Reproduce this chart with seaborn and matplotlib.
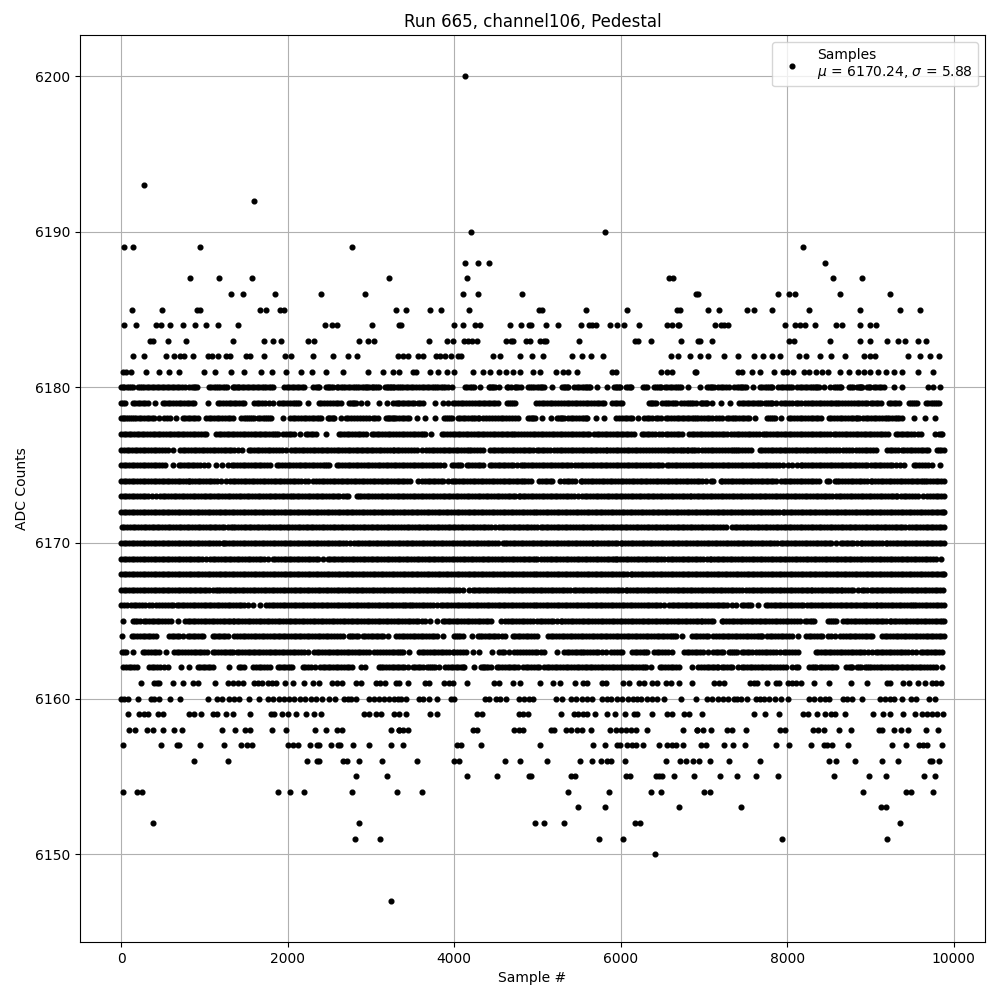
import numpy as np
import pandas as pd
import matplotlib
matplotlib.use("Agg")
import matplotlib.pyplot as plt
import seaborn as sns

# Sample numbers, one list per ADC level
s6200 = [4132]
s6193 = [273]
s6192 = [1600]
s6190 = [4196, 5812]
s6189 = [32, 140, 944, 2768, 8192]
s6188 = [4124, 4280, 4412, 8456]
s6187 = [824, 1172, 1568, 3212, 4148, 6584, 6632, 8552, 8900]
s6186 = [1316, 1460, 1844, 2396, 2924, 4100, 4280, 4808, 6908, 6932, 7892, 8024, 8096, 8636, 9236]
s6185 = [128, 488, 908, 948, 1664, 1736, 1904, 1960, 3296, 3416, 3704, 3836, 4172, 5024, 5060, 5588, 6080, 6680, 6712,
         7052, 7184, 7520, 7604, 7820, 8264, 8876, 9356, 9596]
s6184 = [32, 176, 416, 476, 584, 740, 884, 1016, 1160, 1400, 2444, 2528, 2588, 3008, 3336, 3360, 3992, 4100, 4244, 4304,
         4664, 4796, 4900, 4924, 5108, 5252, 5528, 5624, 5660, 5700, 5876, 5960, 6044, 6224, 6560, 6620, 6692, 6700,
         7136, 7208, 7244, 7292, 7976, 8096, 8156, 8216, 8336, 8588, 8660, 8876, 8996, 9068]
s6183 = [344, 380, 560, 784, 1340, 1712, 1820, 1916, 2240, 2312, 2852, 2960, 3032, 3692, 3908, 3980, 4112, 4160, 4208,
         4268, 4616, 4676, 4700, 4856, 4904, 5036, 5084, 5108, 5504, 6176, 6212, 6368, 6728, 6932, 6956, 7100, 8024,
         8084, 8516, 8876, 8996, 9200, 9332, 9416, 9572, 9668]
s6182 = [140, 272, 536, 632, 704, 752, 860, 1040, 1088, 1160, 1256, 1304, 1496, 1544, 1712, 1964, 2036, 2300, 2540, 2720,
         2828, 3320, 3380, 3440, 3560, 3620, 3776, 3824, 3884, 3956, 4040, 4076, 4460, 4544, 4784, 4928, 5072, 5420,
         5540, 5648, 5792, 6608, 6692, 6836, 6956, 7052, 7244, 7412, 7604, 7712, 7820, 7916, 8144, 8228, 8396, 8528,
         8696, 8924, 8996, 9056, 9452, 9596, 9716, 9824]
s6181 = [20, 60, 116, 296, 452, 572, 692, 992, 1124, 1316, 1472, 1676, 1808, 1976, 2156, 2288, 2456, 2660, 2960, 3140,
         3260, 3340, 3500, 3540, 3704, 3800, 3908, 3992, 4220, 4340, 4424, 4532, 4616, 4700, 4784, 4940, 5036, 5228,
         5312, 5372, 5480, 5900, 5948, 6488, 6560, 6620, 6896, 6908, 7412, 7460, 7580, 7676, 7844, 7952, 8000, 8072,
         8204, 8264, 8348, 8420, 8492, 8636, 8744, 8852, 8924, 8988, 9088, 9188, 9284, 9380, 9564, 9752]
s6180 = [0, 40, 90, 140, 200, 250, 310, 372, 400, 460, 520, 580, 640, 700, 772, 820, 870, 908, 1052, 1110, 1160, 1220,
         1268, 1340, 1380, 1420, 1480, 1540, 1600, 1660, 1720, 1770, 1820, 1960, 2020, 2080, 2140, 2200, 2300, 2340,
         2380, 2460, 2500, 2540, 2588, 2640, 2692, 2720, 2780, 2830, 2890, 2940, 2952, 3010, 3050, 3092, 3172, 3210,
         3244, 3280, 3340, 3360, 3420, 3480, 3540, 3580, 3640, 3700, 3760, 3810, 3870, 3920, 3968, 4128, 4185, 4240,
         4304, 4412, 4450, 4484, 4532, 4628, 4676, 4724, 4760, 4796, 4880, 4930, 4990, 5040, 5084, 5180, 5300, 5335,
         5372, 5444, 5500, 5560, 5600, 5636, 5720, 5840, 5924, 5960, 5996, 6068, 6128, 6272, 6320, 6404, 6450, 6488,
         6536, 6590, 6650, 6700, 6728, 6812, 6948, 7040, 7080, 7120, 7172, 7230, 7300, 7360, 7420, 7460, 7500, 7588,
         7676, 7730, 7780, 7820, 7892, 7950, 8010, 8060, 8120, 8180, 8240, 8300, 8340, 8380, 8444, 8516, 8564, 8610,
         8648, 8744, 8792, 8840, 8870, 8900, 8960, 8988, 9040, 9100, 9160, 9284, 9380, 9692, 9752, 9836,
         20, 65, 115, 225, 280, 340, 430, 490, 550, 610, 670, 735, 845, 890, 1080, 1135, 1190, 1245, 1360, 1400, 1450,
         1510, 1570, 1630, 1690, 1745, 1795, 1990, 2050, 2110, 2170, 2360, 2480, 2520, 2610, 2665, 2750, 2805, 2860,
         2915, 2980, 3030, 3070, 3190, 3225, 3260, 3310, 3390, 3450, 3510, 3610, 3670, 3730, 3785, 3840, 3895, 4155,
         4210, 4430, 4465, 4650, 4740, 4905, 4960, 5015, 5060, 5315, 5355, 5470, 5530, 5580, 5620, 5940, 5980, 6090,
         6110, 6295, 6425, 6470, 6560, 6620, 6675, 7060, 7100, 7200, 7265, 7390, 7440, 7480, 7700, 7755, 7800, 7920,
         7980, 8035, 8150, 8210, 8270, 8320, 8360, 8585, 8630, 8765, 8855, 8885, 8975, 9070, 9130]
s6179 = [0, 52, 140, 200, 260, 320, 412, 500, 560, 620, 690, 750, 820, 880, 1040, 1160, 1220, 1290, 1350, 1420, 1480,
         1600, 1660, 1730, 1820, 1900, 1960, 2030, 2090, 2132, 2240, 2372, 2440, 2510, 2580, 2640, 2740, 2780, 2820,
         2880, 2952, 3092, 3188, 3260, 3300, 3340, 3400, 3460, 3520, 3560, 3628, 3764, 3860, 3920, 3980, 4050, 4110,
         4180, 4248, 4280, 4340, 4400, 4460, 4520, 4628, 4680, 4724, 4988, 5050, 5110, 5180, 5250, 5320, 5380, 5420,
         5480, 5550, 5610, 5680, 5740, 5800, 5900, 5960, 6020, 6340, 6380, 6420, 6500, 6560, 6610, 6660, 6728, 6790,
         6840, 6900, 6960, 7000, 7040, 7100, 7208, 7316, 7420, 7480, 7540, 7600, 7640, 7680, 7732, 7780, 7820, 7860,
         7920, 7990, 8052, 8100, 8160, 8212, 8280, 8340, 8380, 8440, 8510, 8570, 8620, 8660, 8730, 8800, 8832, 8900,
         8960, 9000, 9060, 9120, 9220, 9280, 9340, 9460, 9510, 9560, 9668, 9720, 9770, 9820,
         25, 170, 230, 290, 530, 590, 655, 720, 785, 850, 1190, 1255, 1320, 1385, 1450, 1630, 1695, 1775, 1930, 1995,
         2060, 2110, 2405, 2475, 2545, 2610, 2760, 2800, 3320, 3370, 3430, 3490, 3595, 4015, 4080, 4145, 4215, 4310,
         4370, 4430, 4490, 4655, 4700, 5020, 5080, 5145, 5215, 5285, 5350, 5450, 5515, 5580, 5645, 5710, 5770, 5930,
         5990, 6360, 6400, 6530, 6585, 6635, 6760, 6815, 6870, 6980, 7020, 7450, 7510, 7570, 7660, 7755, 7800, 7955,
         8020, 8130, 8245, 8310, 8410, 8475, 8540, 8600, 8695, 8765, 8865, 8930, 9030, 9090, 9250, 9310, 9485, 9535,
         9695, 9745, 9795]
s6178 = [0, 40, 80, 130, 180, 212, 270, 340, 400, 452, 520, 588, 660, 740, 800, 860, 920, 1020, 1080, 1150, 1210, 1280,
         1340, 1440, 1500, 1550, 1600, 1640, 1700, 1750, 1800, 1940, 2028, 2090, 2160, 2220, 2290, 2350, 2400, 2480,
         2520, 2560, 2640, 2700, 2760, 2830, 2900, 2980, 3020, 3080, 3180, 3220, 3260, 3300, 3340, 3400, 3460, 3548,
         3644, 3764, 3880, 3930, 3970, 4040, 4100, 4170, 4230, 4280, 4300, 4380, 4420, 4490, 4560, 4620, 4690, 4760,
         4880, 4930, 4972, 5060, 5168, 5240, 5280, 5320, 5372, 5430, 5500, 5560, 5600, 5708, 5804, 5940, 6010, 6080,
         6140, 6212, 6280, 6340, 6420, 6480, 6540, 6600, 6670, 6730, 6800, 6820, 6880, 6932, 6960, 7030, 7100, 7180,
         7220, 7280, 7330, 7380, 7420, 7480, 7540, 7616, 7760, 7810, 7852, 7920, 8020, 8080, 8150, 8210, 8280, 8340,
         8400, 8500, 8560, 8630, 8690, 8760, 8820, 8860, 8908, 8970, 9040, 9100, 9170, 9220, 9260, 9320, 9372, 9520,
         9656, 9776,
         20, 60, 105, 155, 240, 305, 370, 550, 770, 830, 890, 1050, 1115, 1180, 1245, 1310, 1470, 1525, 1575, 1670, 1725,
         1775, 2060, 2125, 2190, 2255, 2320, 2375, 2500, 2540, 2730, 2795, 2865, 2940, 3050, 3200, 3240, 3280, 3370,
         3430, 3905, 3950, 4070, 4135, 4200, 4255, 4340, 4455, 4525, 4590, 4655, 4725, 4905, 4950, 5260, 5300, 5400,
         5465, 5530, 5580, 5975, 6045, 6110, 6310, 6380, 6450, 6570, 6635, 6700, 6765, 6850, 6905, 6995, 7065, 7140,
         7305, 7355, 7450, 7510, 7785, 7830, 8050, 8115, 8180, 8245, 8310, 8370, 8530, 8595, 8660, 8725, 8790, 8840,
         8940, 9005, 9070, 9135, 9195, 9290, 9345]
s6177 = [0, 60, 120, 190, 250, 310, 380, 440, 500, 570, 630, 700, 760, 830, 890, 960, 1020, 1140, 1200, 1270, 1330, 1390,
         1428, 1460, 1520, 1590, 1650, 1710, 1780, 1840, 1880, 1940, 2010, 2080, 2144, 2220, 2280, 2340, 2456, 2612,
         2680, 2740, 2810, 2870, 2940, 3008, 3070, 3130, 3200, 3260, 3340, 3400, 3470, 3530, 3600, 3650, 3716, 3852,
         3910, 3980, 4040, 4110, 4170, 4240, 4300, 4360, 4430, 4490, 4560, 4620, 4680, 4700, 4770, 4840, 4910, 4940,
         5010, 5070, 5140, 5200, 5270, 5330, 5400, 5460, 5530, 5590, 5620, 5680, 5740, 5810, 5870, 5940, 6000, 6028,
         6090, 6160, 6250, 6280, 6340, 6410, 6500, 6540, 6600, 6670, 6730, 6820, 6880, 6950, 7010, 7080, 7140, 7210,
         7280, 7328, 7390, 7460, 7530, 7548, 7620, 7710, 7732, 7790, 7860, 7920, 7990, 8050, 8120, 8180, 8250, 8310,
         8380, 8440, 8510, 8560, 8620, 8690, 8750, 8820, 8880, 8950, 9010, 9080, 9140, 9210, 9300, 9328, 9390, 9450,
         9520, 9610, 9772, 9820, 9860,
         30, 90, 155, 220, 280, 345, 410, 470, 535, 600, 665, 730, 795, 860, 925, 990, 1170, 1235, 1300, 1360, 1490, 1555,
         1620, 1680, 1745, 1810, 1860, 1975, 2045, 2250, 2310, 2645, 2710, 2775, 2840, 2905, 3040, 3100, 3165, 3230,
         3300, 3370, 3435, 3500, 3565, 3625, 3880, 3945, 4010, 4075, 4140, 4205, 4270, 4330, 4395, 4460, 4525, 4590,
         4650, 4735, 4805, 4875, 4975, 5040, 5105, 5170, 5235, 5300, 5365, 5430, 5495, 5560, 5710, 5775, 5840, 5905,
         5970, 6060, 6125, 6310, 6375, 6455, 6570, 6635, 6700, 6850, 6915, 6980, 7045, 7110, 7175, 7245, 7360, 7425,
         7495, 7585, 7665, 7760, 7825, 7890, 7955, 8020, 8085, 8150, 8215, 8280, 8345, 8410, 8475, 8590, 8655, 8720,
         8785, 8850, 8915, 8980, 9045, 9110, 9175, 9360, 9420, 9485, 9565, 9840]
s6176 = [0, 70, 132, 164, 230, 290, 360, 420, 490, 560, 628, 712, 772, 840, 900, 970, 1030, 1100, 1160, 1230, 1290, 1360,
         1452, 1532, 1600, 1660, 1692, 1760, 1820, 1890, 1980, 2040, 2100, 2170, 2230, 2300, 2360, 2430, 2490, 2560,
         2620, 2690, 2750, 2820, 2880, 2940, 2960, 3030, 3092, 3120, 3190, 3260, 3280, 3340, 3410, 3480, 3548, 3612,
         3660, 3730, 3790, 3860, 3920, 3990, 4050, 4120, 4180, 4200, 4270, 4340, 4428, 4490, 4560, 4620, 4690, 4750,
         4820, 4880, 4940, 5000, 5020, 5080, 5148, 5200, 5270, 5330, 5400, 5460, 5530, 5590, 5660, 5720, 5790, 5820,
         5840, 5910, 5970, 6040, 6100, 6170, 6230, 6300, 6340, 6380, 6452, 6480, 6550, 6610, 6680, 6740, 6790, 6812,
         6870, 6924, 6980, 7050, 7110, 7180, 7252, 7292, 7350, 7400, 7420, 7490, 7560, 7672, 7730, 7800, 7860, 7930,
         7990, 8060, 8120, 8190, 8250, 8320, 8380, 8450, 8510, 8580, 8620, 8672, 8740, 8820, 8860, 8930, 8990, 9060,
         9200, 9260, 9330, 9380, 9400, 9470, 9530, 9600, 9660, 9692, 9792, 9850, 9880,
         35, 100, 195, 260, 325, 390, 455, 525, 740, 805, 870, 935, 1000, 1065, 1130, 1195, 1260, 1325, 1400, 1565, 1630,
         1725, 1790, 1855, 1935, 2070, 2135, 2200, 2265, 2330, 2395, 2460, 2525, 2590, 2655, 2720, 2785, 2850, 2910,
         2995, 3060, 3155, 3225, 3310, 3375, 3445, 3515, 3695, 3760, 3825, 3890, 3955, 4020, 4085, 4150, 4235, 4305,
         4460, 4525, 4590, 4655, 4720, 4785, 4850, 4910, 5050, 5115, 5235, 5300, 5365, 5430, 5495, 5560, 5625, 5690,
         5755, 5875, 5940, 6005, 6070, 6135, 6200, 6265, 6415, 6515, 6580, 6645, 6710, 6765, 6840, 6895, 7015, 7080,
         7145, 7215, 7320, 7375, 7455, 7525, 7700, 7765, 7830, 7895, 7960, 8025, 8090, 8155, 8220, 8285, 8350, 8415,
         8480, 8545, 8705, 8780, 8895, 8960, 9025, 9230, 9295, 9435, 9500, 9565, 9630, 9820]
s6175 = [0, 60, 130, 190, 260, 320, 390, 450, 532, 628, 690, 750, 820, 880, 950, 1048, 1136, 1212, 1280, 1328, 1390,
         1460, 1520, 1590, 1650, 1720, 1792, 1868, 1930, 2000, 2060, 2130, 2190, 2260, 2320, 2390, 2450, 2500, 2588,
         2650, 2720, 2780, 2820, 2880, 2950, 3010, 3080, 3140, 3210, 3280, 3300, 3340, 3400, 3470, 3530, 3600, 3660,
         3730, 3790, 3880, 3972, 4030, 4080, 4152, 4210, 4280, 4340, 4428, 4452, 4520, 4580, 4650, 4710, 4800, 4820,
         4890, 4950, 5020, 5080, 5150, 5210, 5280, 5340, 5400, 5452, 5520, 5580, 5650, 5710, 5780, 5840, 5910, 5970,
         6040, 6100, 6170, 6230, 6300, 6340, 6360, 6430, 6500, 6552, 6620, 6680, 6750, 6820, 6880, 6950, 7010, 7080,
         7140, 7210, 7270, 7340, 7372, 7440, 7500, 7570, 7630, 7700, 7760, 7830, 7900, 7948, 8012, 8060, 8120, 8160,
         8180, 8250, 8310, 8380, 8440, 8510, 8570, 8640, 8700, 8770, 8830, 8900, 8960, 9040, 9068, 9130, 9200, 9260,
         9348, 9404, 9520, 9580, 9650, 9740, 9828,
         30, 95, 160, 225, 290, 355, 420, 490, 720, 785, 850, 915, 1000, 1360, 1425, 1490, 1555, 1620, 1685, 1755, 1900,
         1965, 2030, 2095, 2160, 2225, 2290, 2355, 2420, 2475, 2620, 2685, 2750, 2850, 2915, 2980, 3045, 3110, 3175,
         3245, 3370, 3435, 3500, 3565, 3630, 3695, 3760, 3835, 4000, 4055, 4180, 4245, 4310, 4485, 4550, 4615, 4680,
         4755, 4855, 4920, 4985, 5050, 5115, 5180, 5245, 5310, 5370, 5485, 5550, 5615, 5680, 5745, 5810, 5875, 5940,
         6005, 6070, 6135, 6200, 6265, 6395, 6465, 6585, 6650, 6715, 6785, 6850, 6915, 6980, 7045, 7110, 7175, 7240,
         7305, 7405, 7470, 7535, 7600, 7665, 7730, 7795, 7865, 8215, 8280, 8345, 8410, 8475, 8540, 8605, 8670, 8735,
         8800, 8865, 8930, 9000, 9100, 9165, 9230, 9300, 9550, 9615, 9695]
s6174 = [0, 60, 130, 190, 260, 320, 390, 450, 520, 580, 650, 710, 780, 812, 820, 890, 950, 1020, 1080, 1150, 1200, 1260,
         1308, 1370, 1440, 1500, 1570, 1630, 1700, 1760, 1830, 1890, 1960, 1992, 2060, 2120, 2212, 2240, 2308, 2340,
         2410, 2470, 2540, 2600, 2670, 2730, 2800, 2820, 2890, 2950, 3020, 3080, 3150, 3210, 3280, 3340, 3400, 3470,
         3564, 3612, 3680, 3740, 3810, 3870, 3972, 3992, 4060, 4120, 4190, 4250, 4320, 4380, 4450, 4510, 4580, 4640,
         4710, 4770, 4828, 4848, 4920, 5020, 5052, 5120, 5180, 5276, 5316, 5380, 5450, 5524, 5540, 5610, 5670, 5740,
         5800, 5870, 5930, 6000, 6060, 6130, 6190, 6260, 6320, 6390, 6450, 6520, 6580, 6650, 6710, 6780, 6840, 6910,
         6970, 7084, 7112, 7200, 7220, 7290, 7350, 7420, 7480, 7550, 7610, 7680, 7740, 7800, 7860, 7920, 7990, 8050,
         8120, 8180, 8250, 8310, 8380, 8480, 8500, 8570, 8620, 8660, 8730, 8790, 8860, 8920, 9000, 9020, 9090, 9150,
         9220, 9280, 9350, 9410, 9480, 9540, 9610, 9652, 9680, 9750, 9810, 9880,
         30, 95, 160, 225, 290, 355, 420, 485, 550, 615, 680, 745, 855, 920, 985, 1050, 1115, 1340, 1405, 1470, 1535, 1600,
         1665, 1730, 1795, 1860, 1925, 2025, 2090, 2165, 2375, 2440, 2505, 2570, 2635, 2700, 2765, 2855, 2920, 2985,
         3050, 3115, 3180, 3245, 3310, 3370, 3435, 3650, 3710, 3775, 3840, 3920, 4025, 4090, 4155, 4220, 4285, 4350,
         4415, 4480, 4545, 4610, 4675, 4740, 4800, 4885, 5085, 5150, 5350, 5415, 5575, 5640, 5705, 5770, 5835, 5900,
         5965, 6030, 6095, 6160, 6225, 6290, 6355, 6420, 6485, 6550, 6615, 6680, 6745, 6810, 6875, 6940, 7025, 7255,
         7320, 7385, 7450, 7515, 7580, 7645, 7710, 7770, 7830, 7955, 8020, 8085, 8150, 8215, 8280, 8345, 8600, 8695,
         8760, 8825, 8890, 8960, 9055, 9120, 9185, 9250, 9315, 9380, 9445, 9510, 9575, 9630, 9715, 9780, 9845]
s6173 = [0, 60, 130, 190, 260, 320, 420, 468, 530, 600, 660, 730, 790, 860, 920, 990, 1050, 1120, 1180, 1250, 1310, 1380,
         1440, 1510, 1570, 1640, 1700, 1770, 1830, 1900, 1960, 2030, 2080, 2108, 2170, 2240, 2300, 2370, 2430, 2500,
         2560, 2620, 2660, 2730, 2832, 2852, 2920, 2980, 3050, 3120, 3148, 3210, 3280, 3340, 3400, 3470, 3530, 3600,
         3660, 3730, 3790, 3860, 3920, 3990, 4050, 4120, 4180, 4250, 4310, 4380, 4440, 4510, 4570, 4640, 4700, 4772,
         4788, 4850, 4920, 4980, 5050, 5110, 5180, 5240, 5310, 5370, 5440, 5540, 5568, 5630, 5700, 5760, 5830, 5890,
         5960, 6020, 6090, 6150, 6220, 6240, 6310, 6370, 6440, 6500, 6570, 6630, 6700, 6760, 6828, 6844, 6910, 6970,
         7040, 7100, 7170, 7230, 7300, 7360, 7430, 7490, 7560, 7620, 7690, 7750, 7820, 7880, 7950, 8010, 8080, 8140,
         8210, 8270, 8340, 8400, 8470, 8540, 8588, 8650, 8720, 8780, 8850, 8910, 8980, 9040, 9110, 9170, 9240, 9300,
         9320, 9400, 9428, 9500, 9572, 9632, 9680, 9750, 9810, 9880,
         30, 95, 160, 225, 290, 370, 500, 565, 630, 695, 760, 825, 890, 955, 1020, 1085, 1150, 1215, 1280, 1345, 1410, 1475,
         1540, 1605, 1670, 1735, 1800, 1865, 1930, 1995, 2055, 2140, 2205, 2270, 2335, 2400, 2465, 2530, 2590, 2695,
         2880, 2950, 3015, 3085, 3180, 3245, 3310, 3370, 3435, 3500, 3565, 3630, 3695, 3760, 3825, 3890, 3955, 4020,
         4085, 4150, 4215, 4280, 4345, 4410, 4475, 4540, 4605, 4670, 4735, 4820, 4885, 4950, 5015, 5080, 5145, 5210,
         5275, 5340, 5405, 5490, 5600, 5665, 5730, 5795, 5860, 5925, 5990, 6055, 6120, 6185, 6275, 6340, 6405, 6470,
         6535, 6600, 6665, 6730, 6795, 6880, 6940, 7005, 7070, 7135, 7200, 7265, 7330, 7395, 7460, 7525, 7590, 7655,
         7720, 7785, 7850, 7915, 7980, 8045, 8110, 8175, 8240, 8305, 8370, 8435, 8505, 8620, 8685, 8750, 8815, 8880,
         8945, 9010, 9075, 9140, 9205, 9270, 9360, 9465, 9535, 9715, 9780, 9845]
s6172 = [0, 60, 130, 190, 260, 320, 390, 450, 520, 580, 650, 710, 780, 840, 910, 970, 1040, 1100, 1170, 1230, 1300, 1360,
         1430, 1490, 1560, 1620, 1690, 1750, 1820, 1880, 1950, 2010, 2080, 2140, 2210, 2270, 2340, 2400, 2470, 2530,
         2600, 2660, 2730, 2790, 2860, 2920, 2990, 3050, 3120, 3180, 3250, 3310, 3380, 3440, 3510, 3570, 3640, 3700,
         3770, 3830, 3900, 3960, 4030, 4090, 4160, 4220, 4290, 4350, 4420, 4480, 4550, 4610, 4680, 4740, 4810, 4870,
         4940, 5000, 5070, 5130, 5200, 5260, 5330, 5390, 5460, 5520, 5590, 5650, 5720, 5780, 5850, 5910, 5980, 6040,
         6110, 6170, 6240, 6300, 6370, 6430, 6500, 6560, 6630, 6690, 6760, 6820, 6890, 6950, 7020, 7080, 7150, 7210,
         7280, 7340, 7410, 7470, 7540, 7600, 7670, 7730, 7800, 7860, 7948, 7964, 8030, 8090, 8160, 8220, 8290, 8350,
         8420, 8480, 8550, 8610, 8680, 8740, 8810, 8870, 8940, 9000, 9070, 9130, 9200, 9260, 9330, 9390, 9460, 9520,
         9590, 9650, 9720, 9780, 9850, 9880,
         30, 95, 160, 225, 290, 355, 420, 485, 550, 615, 680, 745, 810, 875, 940, 1005, 1070, 1135, 1200, 1265, 1330, 1395,
         1460, 1525, 1590, 1655, 1720, 1785, 1850, 1915, 1980, 2045, 2110, 2175, 2240, 2305, 2370, 2435, 2500, 2565,
         2630, 2695, 2760, 2825, 2890, 2955, 3020, 3085, 3150, 3215, 3280, 3345, 3410, 3475, 3540, 3605, 3670, 3735,
         3800, 3865, 3930, 3995, 4060, 4125, 4190, 4255, 4320, 4385, 4450, 4515, 4580, 4645, 4710, 4775, 4840, 4905,
         4970, 5035, 5100, 5165, 5230, 5295, 5360, 5425, 5490, 5555, 5620, 5685, 5750, 5815, 5880, 5945, 6010, 6075,
         6140, 6205, 6270, 6335, 6400, 6465, 6530, 6595, 6660, 6725, 6790, 6855, 6920, 6985, 7050, 7115, 7180, 7245,
         7310, 7375, 7440, 7505, 7570, 7635, 7700, 7765, 7830, 7895, 7995, 8060, 8125, 8190, 8255, 8320, 8385, 8450,
         8515, 8580, 8645, 8710, 8775, 8840, 8905, 8970, 9035, 9100, 9165, 9230, 9295, 9360, 9425, 9490, 9555, 9620,
         9685, 9750, 9815, 9870]
s6171 = [12, 70, 140, 200, 270, 330, 400, 460, 530, 590, 660, 720, 790, 850, 920, 980, 1050, 1110, 1180, 1240, 1320,
         1340, 1400, 1470, 1530, 1600, 1660, 1730, 1790, 1860, 1920, 1990, 2050, 2120, 2180, 2250, 2310, 2380, 2440,
         2510, 2570, 2640, 2700, 2770, 2830, 2900, 2960, 3030, 3090, 3160, 3220, 3290, 3360, 3400, 3460, 3530, 3590,
         3660, 3720, 3790, 3850, 3920, 3980, 4050, 4110, 4180, 4240, 4310, 4370, 4440, 4540, 4568, 4630, 4700, 4760,
         4830, 4890, 4960, 5040, 5072, 5130, 5200, 5260, 5330, 5390, 5460, 5540, 5564, 5630, 5690, 5760, 5820, 5890,
         5950, 6020, 6080, 6150, 6210, 6280, 6340, 6410, 6470, 6540, 6600, 6670, 6730, 6800, 6860, 6930, 6990, 7060,
         7120, 7190, 7260, 7340, 7400, 7470, 7530, 7600, 7660, 7730, 7790, 7860, 7920, 7990, 8050, 8120, 8180, 8250,
         8310, 8380, 8440, 8510, 8570, 8640, 8700, 8770, 8830, 8900, 8960, 9030, 9090, 9160, 9220, 9290, 9350, 9412,
         9460, 9530, 9590, 9660, 9720, 9790, 9850, 9880,
         40, 105, 170, 235, 300, 365, 430, 495, 560, 625, 690, 755, 820, 885, 950, 1015, 1080, 1145, 1210, 1280, 1370,
         1435, 1500, 1565, 1630, 1695, 1760, 1825, 1890, 1955, 2020, 2085, 2150, 2215, 2280, 2345, 2410, 2475, 2540,
         2605, 2670, 2735, 2800, 2865, 2930, 2995, 3060, 3125, 3190, 3255, 3325, 3430, 3495, 3560, 3625, 3690, 3755,
         3820, 3885, 3950, 4015, 4080, 4145, 4210, 4275, 4340, 4405, 4490, 4600, 4665, 4730, 4795, 4860, 4925, 5000,
         5100, 5165, 5230, 5295, 5360, 5425, 5500, 5595, 5660, 5725, 5790, 5855, 5920, 5985, 6050, 6115, 6180, 6245,
         6310, 6375, 6440, 6505, 6570, 6635, 6700, 6765, 6830, 6895, 6960, 7025, 7090, 7155, 7225, 7370, 7435, 7500,
         7565, 7630, 7695, 7760, 7825, 7890, 7955, 8020, 8085, 8150, 8215, 8280, 8345, 8410, 8475, 8540, 8605, 8670,
         8735, 8800, 8865, 8930, 8995, 9060, 9125, 9190, 9255, 9320, 9380, 9495, 9560, 9625, 9690, 9755, 9820]
s6170 = [0, 60, 130, 190, 260, 320, 390, 450, 520, 580, 650, 710, 780, 840, 910, 970, 1040, 1100, 1170, 1220, 1232, 1300,
         1360, 1430, 1490, 1560, 1620, 1690, 1750, 1820, 1880, 1950, 2010, 2080, 2140, 2210, 2270, 2340, 2400, 2470,
         2530, 2600, 2660, 2748, 2800, 2860, 2930, 2990, 3060, 3120, 3190, 3250, 3320, 3380, 3450, 3510, 3580, 3640,
         3710, 3770, 3840, 3900, 3970, 4030, 4100, 4160, 4230, 4290, 4360, 4420, 4490, 4580, 4604, 4670, 4730, 4800,
         4860, 4930, 4990, 5060, 5120, 5190, 5250, 5320, 5380, 5450, 5510, 5580, 5652, 5668, 5730, 5800, 5860, 5930,
         6000, 6020, 6090, 6150, 6220, 6280, 6350, 6410, 6480, 6540, 6610, 6670, 6740, 6800, 6870, 6930, 7000, 7060,
         7130, 7190, 7260, 7320, 7390, 7450, 7520, 7580, 7650, 7710, 7780, 7840, 7920, 7948, 8010, 8080, 8140, 8210,
         8270, 8340, 8400, 8470, 8530, 8640, 8668, 8730, 8790, 8880, 8900, 8970, 9030, 9100, 9180, 9200, 9270, 9330,
         9400, 9460, 9530, 9590, 9660, 9720, 9790, 9850, 9880,
         30, 95, 160, 225, 290, 355, 420, 485, 550, 615, 680, 745, 810, 875, 940, 1005, 1070, 1135, 1265, 1330, 1395, 1460,
         1525, 1590, 1655, 1720, 1785, 1850, 1915, 1980, 2045, 2110, 2175, 2240, 2305, 2370, 2435, 2500, 2565, 2630,
         2700, 2830, 2895, 2960, 3025, 3090, 3155, 3220, 3285, 3350, 3415, 3480, 3545, 3610, 3675, 3740, 3805, 3870,
         3935, 4000, 4065, 4130, 4195, 4260, 4325, 4390, 4455, 4530, 4635, 4700, 4765, 4830, 4895, 4960, 5025, 5090,
         5155, 5220, 5285, 5350, 5415, 5480, 5545, 5615, 5700, 5765, 5830, 5895, 5960, 6055, 6120, 6185, 6250, 6315,
         6380, 6445, 6510, 6575, 6640, 6705, 6770, 6835, 6900, 6965, 7030, 7095, 7160, 7225, 7290, 7355, 7420, 7485,
         7550, 7615, 7680, 7745, 7810, 7875, 7980, 8045, 8110, 8175, 8240, 8305, 8370, 8435, 8500, 8580, 8700, 8760,
         8835, 8935, 9000, 9065, 9140, 9235, 9300, 9365, 9430, 9495, 9560, 9625, 9690, 9755, 9820]
s6169 = [0, 60, 130, 190, 260, 320, 390, 450, 520, 580, 650, 710, 780, 840, 910, 970, 1068, 1100, 1160, 1230, 1290, 1360,
         1420, 1490, 1550, 1620, 1680, 1760, 1820, 1880, 1950, 2020, 2040, 2110, 2170, 2240, 2300, 2370, 2480, 2512,
         2570, 2640, 2700, 2770, 2830, 2900, 2960, 3030, 3090, 3160, 3220, 3290, 3350, 3420, 3480, 3550, 3610, 3680,
         3740, 3810, 3870, 3940, 4000, 4070, 4130, 4200, 4260, 4330, 4390, 4452, 4492, 4560, 4620, 4690, 4750, 4820,
         4880, 4950, 5000, 5048, 5110, 5180, 5240, 5310, 5370, 5440, 5500, 5570, 5630, 5700, 5760, 5830, 5890, 5940,
         5960, 6030, 6090, 6160, 6220, 6290, 6350, 6420, 6480, 6572, 6600, 6660, 6730, 6790, 6860, 6920, 6990, 7068,
         7088, 7150, 7210, 7280, 7340, 7410, 7470, 7540, 7600, 7670, 7730, 7800, 7860, 7930, 7990, 8060, 8120, 8190,
         8250, 8320, 8380, 8450, 8510, 8580, 8640, 8710, 8770, 8840, 8900, 8970, 9030, 9100, 9160, 9230, 9290, 9360,
         9420, 9490, 9550, 9620, 9680, 9750, 9840,
         30, 95, 160, 225, 290, 355, 420, 485, 550, 615, 680, 745, 810, 875, 940, 1020, 1130, 1195, 1260, 1325, 1390, 1455,
         1520, 1585, 1650, 1720, 1850, 1915, 1985, 2075, 2140, 2205, 2270, 2335, 2425, 2540, 2605, 2670, 2735, 2800,
         2865, 2930, 2995, 3060, 3125, 3190, 3255, 3320, 3385, 3450, 3515, 3580, 3645, 3710, 3775, 3840, 3905, 3970,
         4035, 4100, 4165, 4230, 4295, 4360, 4420, 4525, 4590, 4655, 4720, 4785, 4850, 4915, 4975, 5080, 5145, 5210,
         5275, 5340, 5405, 5470, 5535, 5600, 5665, 5730, 5795, 5860, 5915, 5995, 6060, 6125, 6190, 6255, 6320, 6385,
         6450, 6525, 6630, 6695, 6760, 6825, 6890, 6955, 7030, 7120, 7180, 7245, 7310, 7375, 7440, 7505, 7570, 7635,
         7700, 7765, 7830, 7895, 7960, 8025, 8090, 8155, 8220, 8285, 8350, 8415, 8480, 8545, 8610, 8675, 8740, 8805,
         8870, 8935, 9000, 9065, 9130, 9195, 9260, 9325, 9390, 9455, 9520, 9585, 9650, 9715, 9790]
s6168 = [0, 60, 130, 190, 260, 320, 390, 450, 520, 580, 650, 710, 780, 840, 910, 970, 1040, 1100, 1170, 1230, 1300, 1360,
         1430, 1490, 1560, 1620, 1690, 1750, 1820, 1880, 1950, 2010, 2080, 2140, 2210, 2270, 2340, 2400, 2470, 2530,
         2600, 2660, 2730, 2790, 2860, 2920, 2990, 3050, 3120, 3180, 3250, 3310, 3380, 3440, 3510, 3570, 3640, 3700,
         3770, 3830, 3900, 3960, 4030, 4090, 4160, 4220, 4290, 4350, 4420, 4480, 4550, 4610, 4680, 4740, 4810, 4870,
         4940, 5000, 5070, 5130, 5200, 5260, 5330, 5390, 5460, 5520, 5590, 5650, 5720, 5780, 5850, 5910, 5980, 6040,
         6120, 6140, 6210, 6270, 6340, 6400, 6470, 6530, 6600, 6660, 6730, 6790, 6860, 6920, 6990, 7050, 7120, 7180,
         7250, 7310, 7380, 7440, 7510, 7570, 7640, 7700, 7770, 7830, 7900, 7960, 8030, 8090, 8160, 8220, 8290, 8350,
         8420, 8480, 8550, 8610, 8680, 8740, 8810, 8870, 8940, 9000, 9070, 9130, 9200, 9260, 9330, 9390, 9460, 9520,
         9590, 9650, 9720, 9780, 9850, 9880,
         30, 95, 160, 225, 290, 355, 420, 485, 550, 615, 680, 745, 810, 875, 940, 1005, 1070, 1135, 1200, 1265, 1330, 1395,
         1460, 1525, 1590, 1655, 1720, 1785, 1850, 1915, 1980, 2045, 2110, 2175, 2240, 2305, 2370, 2435, 2500, 2565,
         2630, 2695, 2760, 2825, 2890, 2955, 3020, 3085, 3150, 3215, 3280, 3345, 3410, 3475, 3540, 3605, 3670, 3735,
         3800, 3865, 3930, 3995, 4060, 4125, 4190, 4255, 4320, 4385, 4450, 4515, 4580, 4645, 4710, 4775, 4840, 4905,
         4970, 5035, 5100, 5165, 5230, 5295, 5360, 5425, 5490, 5555, 5620, 5685, 5750, 5815, 5880, 5945, 6010, 6080,
         6175, 6240, 6305, 6370, 6435, 6500, 6565, 6630, 6695, 6760, 6825, 6890, 6955, 7020, 7085, 7150, 7215, 7280,
         7345, 7410, 7475, 7540, 7605, 7670, 7735, 7800, 7865, 7930, 7995, 8060, 8125, 8190, 8255, 8320, 8385, 8450,
         8515, 8580, 8645, 8710, 8775, 8840, 8905, 8970, 9035, 9100, 9165, 9230, 9295, 9360, 9425, 9490, 9555, 9620,
         9685, 9750, 9815, 9870]
s6167 = [0, 60, 130, 190, 260, 320, 390, 450, 520, 580, 650, 710, 780, 840, 900, 960, 992, 1060, 1140, 1160, 1220, 1290,
         1350, 1420, 1480, 1550, 1610, 1680, 1740, 1810, 1870, 1940, 2000, 2070, 2130, 2200, 2260, 2330, 2390, 2460,
         2520, 2590, 2650, 2720, 2780, 2850, 2910, 2980, 3040, 3110, 3170, 3240, 3300, 3370, 3430, 3500, 3560, 3630,
         3690, 3760, 3820, 3890, 3950, 4020, 4108, 4172, 4220, 4252, 4310, 4380, 4440, 4510, 4570, 4640, 4700, 4770,
         4830, 4900, 4960, 5030, 5090, 5160, 5220, 5290, 5350, 5440, 5460, 5530, 5590, 5660, 5720, 5790, 5850, 5920,
         5980, 6060, 6080, 6150, 6210, 6280, 6340, 6410, 6470, 6540, 6600, 6670, 6730, 6800, 6860, 6930, 6990, 7060,
         7120, 7190, 7250, 7320, 7380, 7460, 7508, 7570, 7640, 7700, 7770, 7830, 7900, 7960, 8030, 8090, 8160, 8220,
         8280, 8300, 8370, 8430, 8500, 8520, 8580, 8640, 8660, 8730, 8790, 8900, 8920, 9000, 9028, 9090, 9150, 9220,
         9280, 9350, 9410, 9480, 9540, 9610, 9670, 9740, 9800, 9868,
         30, 95, 160, 225, 290, 355, 420, 485, 550, 615, 680, 745, 810, 870, 930, 1025, 1100, 1190, 1255, 1320, 1385, 1450,
         1515, 1580, 1645, 1710, 1775, 1840, 1905, 1970, 2035, 2100, 2165, 2230, 2295, 2360, 2425, 2490, 2555, 2620,
         2685, 2750, 2815, 2880, 2945, 3010, 3075, 3140, 3205, 3270, 3335, 3400, 3465, 3530, 3595, 3660, 3725, 3790,
         3855, 3920, 3985, 4060, 4280, 4345, 4410, 4475, 4540, 4605, 4670, 4735, 4800, 4865, 4930, 4995, 5060, 5125,
         5190, 5255, 5320, 5395, 5495, 5560, 5625, 5690, 5755, 5820, 5885, 5950, 6020, 6115, 6180, 6245, 6310, 6375,
         6440, 6505, 6570, 6635, 6700, 6765, 6830, 6895, 6960, 7025, 7090, 7155, 7220, 7285, 7350, 7420, 7540, 7605,
         7670, 7735, 7800, 7865, 7930, 7995, 8060, 8125, 8190, 8250, 8335, 8400, 8465, 8550, 8610, 8695, 8760, 8845,
         8960, 9060, 9120, 9185, 9250, 9315, 9380, 9445, 9510, 9575, 9640, 9705, 9770, 9835]
s6166 = [0, 68, 120, 180, 250, 332, 420, 490, 560, 628, 668, 730, 790, 860, 920, 990, 1050, 1120, 1180, 1250, 1310, 1380,
         1440, 1520, 1580, 1668, 1740, 1780, 1840, 1910, 1970, 2040, 2100, 2170, 2230, 2300, 2360, 2430, 2490, 2560,
         2620, 2690, 2750, 2820, 2880, 2950, 3010, 3080, 3140, 3210, 3270, 3340, 3400, 3452, 3480, 3540, 3610, 3670,
         3740, 3840, 3868, 3930, 4000, 4060, 4130, 4190, 4260, 4320, 4390, 4450, 4520, 4548, 4610, 4680, 4740, 4810,
         4870, 4940, 5000, 5070, 5130, 5200, 5260, 5330, 5390, 5460, 5520, 5590, 5650, 5720, 5780, 5850, 5910, 5980,
         6040, 6110, 6170, 6240, 6280, 6340, 6410, 6470, 6580, 6612, 6670, 6740, 6800, 6860, 6920, 6988, 7020, 7080,
         7150, 7210, 7280, 7388, 7460, 7510, 7568, 7652, 7740, 7800, 7870, 7930, 8000, 8060, 8130, 8188, 8240, 8300,
         8370, 8430, 8500, 8560, 8630, 8690, 8748, 8780, 8840, 8908, 8932, 8990, 9060, 9080, 9140, 9210, 9270, 9340,
         9400, 9468, 9492, 9550, 9620, 9680, 9750, 9810, 9880,
         30, 150, 215, 290, 375, 455, 525, 595, 700, 760, 825, 890, 955, 1020, 1085, 1150, 1215, 1280, 1345, 1410, 1480,
         1810, 1875, 1940, 2005, 2070, 2135, 2200, 2265, 2330, 2395, 2460, 2525, 2590, 2655, 2720, 2785, 2850, 2915,
         2980, 3045, 3110, 3175, 3240, 3305, 3370, 3425, 3510, 3575, 3640, 3705, 3790, 3900, 3965, 4030, 4095, 4160,
         4225, 4290, 4355, 4420, 4485, 4580, 4645, 4710, 4775, 4840, 4905, 4970, 5035, 5100, 5165, 5230, 5295, 5360,
         5425, 5490, 5555, 5620, 5685, 5750, 5815, 5880, 5945, 6010, 6075, 6140, 6205, 6310, 6375, 6440, 6525, 6640,
         6705, 6770, 6830, 6890, 6950, 7050, 7115, 7180, 7245, 7330, 7485, 7535, 7770, 7835, 7900, 7965, 8030, 8095,
         8160, 8270, 8335, 8400, 8465, 8530, 8595, 8660, 8720, 8810, 8875, 8960, 9025, 9110, 9175, 9240, 9305, 9370,
         9435, 9520, 9585, 9650, 9715, 9780, 9845]
s6165 = [20, 140, 190, 228, 272, 330, 400, 460, 530, 600, 680, 768, 830, 890, 960, 1020, 1090, 1150, 1220, 1280, 1340,
         1360, 1420, 1490, 1550, 1620, 1680, 1750, 1810, 1880, 1940, 2010, 2070, 2140, 2200, 2270, 2330, 2400, 2460,
         2530, 2590, 2660, 2720, 2790, 2850, 2920, 2980, 3050, 3110, 3180, 3240, 3310, 3370, 3440, 3500, 3570, 3652,
         3708, 3788, 3860, 3920, 3990, 4050, 4120, 4180, 4250, 4310, 4380, 4440, 4560, 4612, 4680, 4740, 4810, 4870,
         4948, 5000, 5060, 5130, 5190, 5280, 5300, 5370, 5430, 5500, 5560, 5620, 5660, 5730, 5790, 5860, 5920, 5990,
         6050, 6120, 6180, 6250, 6310, 6380, 6440, 6510, 6570, 6640, 6700, 6770, 6830, 6900, 6960, 6980, 7050, 7110,
         7212, 7232, 7300, 7360, 7430, 7490, 7560, 7620, 7690, 7750, 7820, 7880, 7950, 8010, 8080, 8120, 8148, 8210,
         8270, 8320, 8488, 8540, 8588, 8668, 8730, 8800, 8860, 8930, 8990, 9060, 9120, 9190, 9228, 9248, 9310, 9380,
         9440, 9510, 9570, 9640, 9700, 9770, 9830, 9880,
         165, 300, 365, 430, 495, 565, 800, 860, 925, 990, 1055, 1120, 1185, 1250, 1310, 1390, 1455, 1520, 1585, 1650,
         1715, 1780, 1845, 1910, 1975, 2040, 2105, 2170, 2235, 2300, 2365, 2430, 2495, 2560, 2625, 2690, 2755, 2820,
         2885, 2950, 3015, 3080, 3145, 3210, 3275, 3340, 3405, 3470, 3535, 3610, 3890, 3955, 4020, 4085, 4150, 4215,
         4280, 4345, 4410, 4645, 4710, 4775, 4840, 4910, 5030, 5095, 5160, 5235, 5335, 5400, 5465, 5530, 5590, 5695,
         5760, 5825, 5890, 5955, 6020, 6085, 6150, 6215, 6280, 6345, 6410, 6475, 6540, 6605, 6670, 6735, 6800, 6865,
         6930, 7015, 7080, 7265, 7330, 7395, 7460, 7525, 7590, 7655, 7720, 7785, 7850, 7915, 7980, 8045, 8240, 8295,
         8515, 8565, 8700, 8765, 8830, 8895, 8960, 9025, 9090, 9155, 9280, 9345, 9410, 9475, 9540, 9605, 9670, 9735,
         9800, 9855]
s6164 = [8, 128, 190, 260, 320, 380, 420, 580, 640, 700, 740, 800, 860, 920, 988, 1100, 1160, 1220, 1280, 1360, 1430,
         1490, 1560, 1620, 1690, 1750, 1820, 1880, 1940, 2000, 2070, 2130, 2200, 2260, 2330, 2390, 2460, 2520, 2590,
         2660, 2740, 2790, 2840, 2900, 2960, 3030, 3090, 3140, 3204, 3300, 3340, 3400, 3470, 3530, 3600, 3660, 3730,
         3788, 3860, 4000, 4050, 4100, 4212, 4280, 4332, 4400, 4460, 4530, 4612, 4700, 4760, 4830, 4890, 4960, 5000,
         5132, 5190, 5260, 5320, 5390, 5450, 5520, 5580, 5650, 5710, 5780, 5840, 5910, 5970, 6040, 6100, 6170, 6230,
         6300, 6360, 6430, 6490, 6560, 6620, 6660, 6732, 6860, 6920, 6990, 7052, 7112, 7180, 7240, 7300, 7340, 7400,
         7470, 7530, 7600, 7660, 7700, 7760, 7820, 7890, 7950, 8020, 8060, 8132, 8228, 8290, 8360, 8420, 8492, 8572,
         8636, 8700, 8770, 8830, 8900, 8960, 9020, 9140, 9200, 9270, 9330, 9400, 9460, 9530, 9590, 9660, 9720, 9790,
         9850, 9880,
         160, 225, 290, 350, 610, 670, 830, 890, 955, 1130, 1190, 1250, 1395, 1460, 1525, 1590, 1655, 1720, 1785, 1850,
         1910, 1970, 2035, 2100, 2165, 2230, 2295, 2360, 2425, 2490, 2555, 2625, 2765, 2815, 2930, 2995, 3060, 3115,
         3370, 3435, 3500, 3565, 3630, 3695, 3760, 4025, 4075, 4305, 4365, 4430, 4495, 4570, 4730, 4795, 4860, 4925,
         5160, 5225, 5290, 5355, 5420, 5485, 5550, 5615, 5680, 5745, 5810, 5875, 5940, 6005, 6070, 6135, 6200, 6265,
         6330, 6395, 6460, 6525, 6590, 6640, 6890, 6955, 7020, 7145, 7210, 7270, 7370, 7435, 7500, 7565, 7630, 7680,
         7790, 7855, 7920, 7985, 8260, 8325, 8390, 8530, 8670, 8735, 8800, 8865, 8930, 8990, 9170, 9235, 9300, 9365,
         9430, 9495, 9560, 9625, 9690, 9755, 9820]
s6163 = [8, 60, 140, 260, 320, 390, 450, 540, 640, 700, 770, 840, 900, 960, 1028, 1100, 1160, 1230, 1290, 1340, 1388,
         1450, 1520, 1580, 1640, 1700, 1770, 1830, 1900, 1960, 2030, 2090, 2160, 2240, 2320, 2380, 2450, 2510, 2580,
         2640, 2710, 2770, 2840, 2900, 2980, 3040, 3110, 3180, 3220, 3280, 3340, 3388, 3452, 3580, 3640, 3710, 3770,
         3840, 3900, 3980, 4000, 4070, 4140, 4228, 4300, 4452, 4540, 4600, 4660, 4720, 4790, 4860, 4932, 5000, 5084,
         5240, 5320, 5380, 5450, 5510, 5560, 5600, 5670, 5730, 5820, 5880, 5950, 6020, 6140, 6200, 6270, 6320, 6400,
         6460, 6530, 6612, 6760, 6820, 6890, 6950, 7052, 7112, 7172, 7228, 7300, 7350, 7400, 7452, 7510, 7580, 7660,
         7700, 7760, 7830, 7908, 7960, 8020, 8090, 8132, 8340, 8400, 8470, 8530, 8600, 8660, 8730, 8790, 8860, 8920,
         9012, 9060, 9120, 9190, 9250, 9320, 9380, 9450, 9548, 9600, 9660, 9730, 9790, 9860,
         35, 290, 355, 420, 670, 735, 805, 870, 930, 995, 1130, 1195, 1260, 1315, 1420, 1485, 1550, 1610, 1670, 1735, 1800,
         1865, 1930, 1995, 2060, 2125, 2200, 2350, 2415, 2480, 2545, 2610, 2675, 2740, 2805, 2870, 2940, 3075, 3145,
         3250, 3310, 3365, 3610, 3675, 3740, 3805, 3870, 3940, 4035, 4105, 4570, 4755, 4825, 4895, 4965, 5040, 5350,
         5415, 5480, 5535, 5635, 5700, 5775, 5915, 5985, 6170, 6235, 6295, 6430, 6495, 6570, 6790, 6855, 6920, 6990,
         7140, 7200, 7325, 7375, 7480, 7545, 7620, 7730, 7795, 7870, 7990, 8055, 8370, 8435, 8500, 8565, 8630, 8695,
         8760, 8825, 8890, 8965, 9090, 9155, 9220, 9285, 9350, 9415, 9500, 9630, 9695, 9760, 9825]
s6162 = [28, 90, 150, 192, 340, 400, 470, 560, 716, 820, 920, 980, 1040, 1100, 1292, 1412, 1480, 1588, 1650, 1720, 1788,
         1880, 1940, 2000, 2052, 2180, 2240, 2332, 2388, 2450, 2510, 2580, 2640, 2710, 2770, 2880, 2924, 3092, 3150,
         3220, 3280, 3340, 3400, 3440, 3500, 3560, 3620, 3668, 3720, 3772, 3820, 3892, 3960, 4020, 4080, 4120, 4232,
         4316, 4360, 4400, 4440, 4508, 4570, 4640, 4700, 4760, 4828, 4890, 4960, 5020, 5080, 5140, 5210, 5270, 5340,
         5400, 5470, 5530, 5600, 5660, 5730, 5790, 5860, 5920, 5990, 6050, 6120, 6180, 6250, 6300, 6360, 6468, 6530,
         6600, 6660, 6700, 6852, 6932, 7000, 7060, 7120, 7172, 7212, 7280, 7340, 7412, 7452, 7520, 7580, 7650, 7710,
         7780, 7840, 7910, 7980, 8060, 8100, 8132, 8260, 8300, 8348, 8388, 8450, 8520, 8580, 8700, 8740, 8780, 8840,
         8890, 8932, 8980, 9040, 9110, 9170, 9240, 9300, 9360, 9388, 9450, 9510, 9580, 9640, 9710, 9788, 9860,
         60, 120, 370, 435, 515, 950, 1010, 1070, 1445, 1620, 1685, 1755, 1910, 1970, 2025, 2210, 2285, 2420, 2480, 2545,
         2610, 2675, 2740, 3120, 3185, 3250, 3310, 3370, 3530, 3590, 3695, 3745, 3925, 3990, 4050, 4100, 4340, 4380,
         4540, 4605, 4670, 4730, 4860, 4925, 4990, 5110, 5175, 5240, 5305, 5370, 5435, 5500, 5565, 5630, 5695, 5760,
         5825, 5890, 5955, 6020, 6085, 6150, 6215, 6275, 6500, 6565, 6630, 6965, 7030, 7090, 7150, 7245, 7310, 7485,
         7550, 7615, 7680, 7745, 7810, 7875, 7945, 8320, 8420, 8485, 8550, 8760, 8865, 8960, 9010, 9075, 9140, 9205,
         9270, 9330, 9420, 9480, 9545, 9610, 9675, 9745]
s6161 = [240, 400, 430, 460, 620, 740, 860, 920, 1124, 1280, 1340, 1400, 1460, 1600, 1640, 1688, 1760, 1810, 1860, 1972,
         2060, 2192, 2300, 2372, 2528, 2588, 2648, 2820, 2880, 3060, 3110, 3172, 3300, 3340, 3440, 3652, 3692, 3872,
         3940, 3980, 4148, 4472, 4540, 4700, 4788, 5036, 5192, 5276, 5456, 5552, 5600, 5780, 5828, 6032, 6100, 6220,
         6280, 6380, 6440, 6540, 6600, 6696, 6860, 7124, 7180, 7240, 7552, 7600, 7640, 7760, 7860, 7900, 8012, 8060,
         8110, 8160, 8324, 8504, 8768, 8960, 9200, 9228, 9392, 9460, 9572, 9656, 9740, 9788, 9848]
s6160 = [0, 40, 80, 200, 360, 400, 452, 584, 704, 1040, 1148, 1208, 1300, 1360, 1420, 1540, 1652, 1760, 1820, 1890, 1950,
         2020, 2080, 2150, 2210, 2280, 2340, 2410, 2500, 2564, 2680, 2720, 2760, 2820, 2980, 3040, 3100, 3160, 3220,
         3280, 3320, 3360, 3420, 3572, 3630, 3700, 3788, 3960, 4000, 4364, 4412, 4500, 4548, 4616, 4780, 4840, 4900,
         4940, 5228, 5300, 5400, 5460, 5530, 5600, 5660, 5780, 5830, 5884, 5960, 6020, 6090, 6150, 6200, 6240, 6320,
         6380, 6440, 6520, 6728, 6908, 7040, 7100, 7170, 7230, 7292, 7360, 7400, 7440, 7520, 7620, 7670, 7720, 7780,
         7850, 7920, 8008, 8260, 8320, 8390, 8450, 8500, 8668, 8720, 8780, 8900, 9112, 9172, 9228, 9284, 9380, 9480,
         9540, 9700, 9772]
s6159 = [80, 220, 270, 320, 440, 500, 820, 880, 960, 1100, 1148, 1260, 1340, 1544, 1800, 1840, 1932, 2000, 2096, 2216,
         2312, 2396, 2920, 2980, 3060, 3116, 3280, 3340, 3420, 3704, 3788, 4268, 4332, 4780, 4830, 4880, 5288, 5440,
         5490, 5550, 5600, 5696, 5840, 5936, 6056, 6160, 6200, 6380, 6560, 6620, 6760, 6820, 6980, 7604, 7732, 7904,
         8188, 8252, 8360, 8452, 8520, 8576, 8696, 9032, 9152, 9228, 9392, 9536, 9620, 9680, 9740, 9800, 9872]
s6158 = [100, 168, 308, 380, 500, 632, 728, 1208, 1364, 1492, 1548, 1808, 1976, 2324, 2456, 2588, 2652, 3236, 3332, 3340,
         3390, 3440, 4220, 4268, 4712, 4772, 4820, 5160, 5200, 5340, 5400, 5470, 5540, 5648, 5876, 5940, 6000, 6060,
         6120, 6180, 6320, 6752, 6912, 6920, 6988, 7088, 7280, 7340, 7508, 7912, 7972, 8312, 8372, 8444, 8624, 8768,
         9100, 9140, 9284, 9360, 9452, 9668, 9812]
s6157 = [20, 476, 668, 700, 944, 1232, 1436, 1508, 1568, 2000, 2060, 2120, 2264, 2348, 2380, 2516, 2600, 2628, 2780, 2972,
         3236, 3380, 4028, 4076, 4316, 5036, 5672, 5816, 5960, 5996, 6080, 6140, 6188, 6272, 6464, 6560, 6620, 6668,
         6752, 6960, 7028, 7244, 7352, 7496, 7868, 8024, 8288, 8444, 8480, 8540, 8732, 9260, 9428, 9580, 9628, 9680,
         9860]
s6156 = [872, 1280, 2228, 2348, 2372, 2660, 2708, 2852, 3128, 3548, 3992, 4052, 4604, 4784, 5120, 5516, 5660, 5768, 5840,
         5888, 6056, 6548, 6716, 6788, 6872, 6940, 7076, 7304, 7676, 8504, 8588, 8816, 9140, 9332, 9708, 9740, 9824]
s6155 = [2816, 3188, 4148, 4508, 4900, 4924, 5408, 5448, 6068, 6108, 6428, 6460, 6500, 6644, 6884, 7196, 7400, 7628, 7892,
         8564, 8984, 9188, 9644, 9776]
s6154 = [20, 188, 248, 1880, 2024, 2192, 2768, 3308, 3608, 5372, 5864, 6368, 6488, 7004, 7076, 8912, 9428, 9488, 9752]
s6153 = [5492, 5816, 6704, 7448, 9124, 9188]
s6152 = [380, 2852, 4976, 5084, 5324, 6176, 6236, 9356]
s6151 = [2804, 3104, 5744, 6032, 7940, 9200]
s6150 = [6416]
s6147 = [3244]

levels = [6200, 6193, 6192, 6190, 6189, 6188, 6187, 6186, 6185, 6184, 6183, 6182, 6181, 6180, 6179, 6178, 6177, 6176,
          6175, 6174, 6173, 6172, 6171, 6170, 6169, 6168, 6167, 6166, 6165, 6164, 6163, 6162, 6161, 6160, 6159, 6158,
          6157, 6156, 6155, 6154, 6153, 6152, 6151, 6150, 6147]
samples = [s6200, s6193, s6192, s6190, s6189, s6188, s6187, s6186, s6185, s6184, s6183, s6182, s6181, s6180, s6179,
           s6178, s6177, s6176, s6175, s6174, s6173, s6172, s6171, s6170, s6169, s6168, s6167, s6166, s6165, s6164,
           s6163, s6162, s6161, s6160, s6159, s6158, s6157, s6156, s6155, s6154, s6153, s6152, s6151, s6150, s6147]

title = "Run 665, channel106, Pedestal"
x_label = "Sample #"
y_label = "ADC Counts"
legend_label = "Samples\n$\\mu$ = 6170.24, $\\sigma$ = 5.88"

df = pd.DataFrame({
    "sample": np.concatenate([np.asarray(s, dtype=float) for s in samples]),
    "adc": np.concatenate([np.full(len(s), lv, dtype=float) for s, lv in zip(samples, levels)]),
})

sns.set_style("ticks")
plt.rcParams.update(matplotlib.rcParamsDefault)
matplotlib.use("Agg")

fig, ax = plt.subplots(figsize=(10, 10), dpi=100)
sns.scatterplot(data=df, x="sample", y="adc", ax=ax, color="k", marker=".", s=46,
                edgecolor="k", linewidth=1, label=legend_label, zorder=2)
ax.grid(True)
ax.set_title(title)
ax.set_xlabel(x_label)
ax.set_ylabel(y_label)
ax.legend(loc="upper right")
fig.subplots_adjust(left=0.080, right=0.985, top=0.965, bottom=0.058)
fig.savefig("out.png", dpi=100)
